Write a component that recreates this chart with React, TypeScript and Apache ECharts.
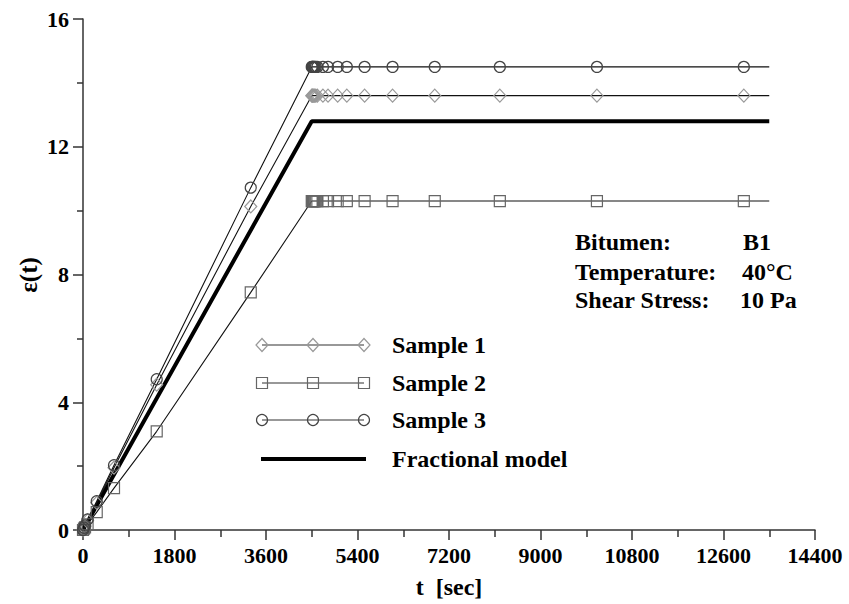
import React, { useEffect, useRef } from "react";
import * as echarts from "echarts";

// ---- data ----
const riseTimes = [0, 20, 40, 90, 270, 610, 1450, 3300];
const sample1Rise = [0, 0.06, 0.12, 0.3, 0.85, 1.95, 4.55, 10.13];
const sample2Rise = [0, 0.04, 0.08, 0.18, 0.56, 1.31, 3.09, 7.44];
const sample3Rise = [0, 0.07, 0.14, 0.33, 0.9, 2.03, 4.72, 10.72];

const plateauTimes = [4500, 4510, 4520, 4530, 4545, 4560, 4580, 4610, 4720, 4820, 5010, 5190, 5540, 6090, 6920, 8200, 10110, 13000];
const sample1Plateau = [13.6, 13.6, 13.6, 13.6, 13.6, 13.6, 13.6, 13.6, 13.6, 13.6, 13.6, 13.6, 13.6, 13.6, 13.6, 13.6, 13.6, 13.6];
const sample2Plateau = [10.3, 10.3, 10.3, 10.3, 10.3, 10.3, 10.3, 10.3, 10.3, 10.3, 10.3, 10.3, 10.3, 10.3, 10.3, 10.3, 10.3, 10.3];
const sample3Plateau = [14.5, 14.5, 14.5, 14.5, 14.5, 14.5, 14.5, 14.5, 14.5, 14.5, 14.5, 14.5, 14.5, 14.5, 14.5, 14.5, 14.5, 14.5];

const endTime = 13500;
const sample1End = 13.6;
const sample2End = 10.3;
const sample3End = 14.5;

const modelTimes = [0, 4500, 13500];
const modelValues = [0, 12.8, 12.8];

const xTicks = { min: 0, max: 14400, interval: 1800 };
const yTicks = { min: 0, max: 16, interval: 4 };

const seriesNames = ["Sample 1", "Sample 2", "Sample 3", "Fractional model"];
const infoLabels = ["Bitumen:", "Temperature:", "Shear Stress:"];
const infoValues = ["B1", "40°C", "10 Pa"];

const FONT = "'Liberation Serif', 'Times New Roman', serif";

function buildSeriesData(rise: number[], plateau: number[], endVal: number) {
  const pts: any[] = [];
  riseTimes.forEach((t, i) => pts.push([t, rise[i]]));
  plateauTimes.forEach((t, i) => pts.push([t, plateau[i]]));
  pts.push({ value: [endTime, endVal], symbol: "none" });
  return pts;
}

export default function App() {
  const ref = useRef<HTMLDivElement>(null);
  useEffect(() => {
    if (!ref.current) return;
    const chart = echarts.init(ref.current, null, { renderer: "svg" });

    const axisColor = "#333";
    const labelStyle = {
      color: "#000",
      fontFamily: FONT,
      fontWeight: "bold" as const,
      fontSize: 22,
      formatter: (v: number) => String(v),
    };

    const legendRows = [345, 383, 420, 459];
    const lx = [262, 313, 364];
    const graphics: any[] = [];
    const markerStyle = (stroke: string) => ({ fill: "rgba(0,0,0,0)", stroke, lineWidth: 1.2 });
    [0, 1, 2].forEach((r) => {
      const y = legendRows[r];
      graphics.push({ type: "line", shape: { x1: lx[0], y1: y, x2: lx[2], y2: y }, style: { stroke: "#333", lineWidth: 1.2 } });
      lx.forEach((x) => {
        if (r === 0) {
          graphics.push({ type: "polygon", shape: { points: [[x, y - 6.5], [x + 6, y], [x, y + 6.5], [x - 6, y]] }, style: markerStyle("#999") });
        } else if (r === 1) {
          graphics.push({ type: "rect", shape: { x: x - 5.5, y: y - 5.5, width: 11, height: 11 }, style: markerStyle("#666") });
        } else {
          graphics.push({ type: "circle", shape: { cx: x, cy: y, r: 5.5 }, style: markerStyle("#444") });
        }
      });
    });
    graphics.push({ type: "line", shape: { x1: 261, y1: legendRows[3], x2: 366, y2: legendRows[3] }, style: { stroke: "#000", lineWidth: 4 } });
    seriesNames.forEach((n, i) => {
      graphics.push({
        type: "text",
        x: 392,
        y: legendRows[i],
        style: { text: n, fontFamily: FONT, fontWeight: "bold", fontSize: 24, fill: "#000", textVerticalAlign: "middle" },
      });
    });
    const infoY = [242, 272, 300];
    const infoX = [743, 742, 740];
    infoLabels.forEach((t, i) => {
      graphics.push({ type: "text", x: 575, y: infoY[i], style: { text: t, fontFamily: FONT, fontWeight: "bold", fontSize: 24, fill: "#000", textVerticalAlign: "middle" } });
      graphics.push({ type: "text", x: infoX[i], y: infoY[i], style: { text: infoValues[i], fontFamily: FONT, fontWeight: "bold", fontSize: 24, fill: "#000", textVerticalAlign: "middle" } });
    });
    graphics.push({
      type: "text",
      x: 28,
      y: 275,
      rotation: Math.PI / 2,
      style: { text: "ε(t)", fontFamily: FONT, fontWeight: "bold", fontSize: 25, fill: "#000", textAlign: "center", textVerticalAlign: "middle" },
    });

    chart.setOption({
      animation: false,
      backgroundColor: "#fff",
      grid: { left: 83, right: 34, top: 19, bottom: 73 },
      xAxis: {
        type: "value",
        min: xTicks.min,
        max: xTicks.max,
        interval: xTicks.interval,
        axisLine: { show: true, onZero: false, lineStyle: { color: axisColor, width: 1.5 } },
        axisTick: { show: true, inside: false, length: 10, lineStyle: { color: axisColor, width: 1.5 } },
        minorTick: { show: true, splitNumber: 2, length: 7, lineStyle: { color: axisColor, width: 1.5 } },
        splitLine: { show: false },
        minorSplitLine: { show: false },
        axisLabel: { ...labelStyle, margin: 14 },
        name: "t  [sec]",
        nameLocation: "middle",
        nameGap: 45,
        nameTextStyle: { color: "#000", fontFamily: FONT, fontWeight: "bold", fontSize: 24 },
      },
      yAxis: {
        type: "value",
        min: yTicks.min,
        max: yTicks.max,
        interval: yTicks.interval,
        axisLine: { show: true, onZero: false, lineStyle: { color: axisColor, width: 1.5 } },
        axisTick: { show: true, inside: false, length: 10, lineStyle: { color: axisColor, width: 1.5 } },
        minorTick: { show: true, splitNumber: 2, length: 6, lineStyle: { color: axisColor, width: 1.5 } },
        splitLine: { show: false },
        minorSplitLine: { show: false },
        axisLabel: { ...labelStyle, margin: 14 },
      },
      series: [
        {
          name: seriesNames[0],
          type: "line",
          data: buildSeriesData(sample1Rise, sample1Plateau, sample1End),
          symbol: "diamond",
          symbolSize: [12, 13],
          showAllSymbol: true,
          lineStyle: { color: "#111", width: 1.1 },
          itemStyle: { color: "rgba(0,0,0,0)", borderColor: "#999", borderWidth: 1.2 },
          z: 3,
        },
        {
          name: seriesNames[1],
          type: "line",
          data: buildSeriesData(sample2Rise, sample2Plateau, sample2End),
          symbol: "rect",
          symbolSize: 11,
          showAllSymbol: true,
          lineStyle: { color: "#111", width: 1.1 },
          itemStyle: { color: "rgba(0,0,0,0)", borderColor: "#666", borderWidth: 1.2 },
          z: 3,
        },
        {
          name: seriesNames[2],
          type: "line",
          data: buildSeriesData(sample3Rise, sample3Plateau, sample3End),
          symbol: "circle",
          symbolSize: 11,
          showAllSymbol: true,
          lineStyle: { color: "#111", width: 1.1 },
          itemStyle: { color: "rgba(0,0,0,0)", borderColor: "#444", borderWidth: 1.2 },
          z: 3,
        },
        {
          name: seriesNames[3],
          type: "line",
          data: modelTimes.map((t, i) => [t, modelValues[i]]),
          symbol: "none",
          lineStyle: { color: "#000", width: 4 },
          z: 2,
        },
      ],
      graphic: graphics,
    });
    return () => chart.dispose();
  }, []);
  return <div ref={ref} style={{ position: "fixed", left: 0, top: 0, width: 849, height: 604, background: "#fff" }} />;
}
